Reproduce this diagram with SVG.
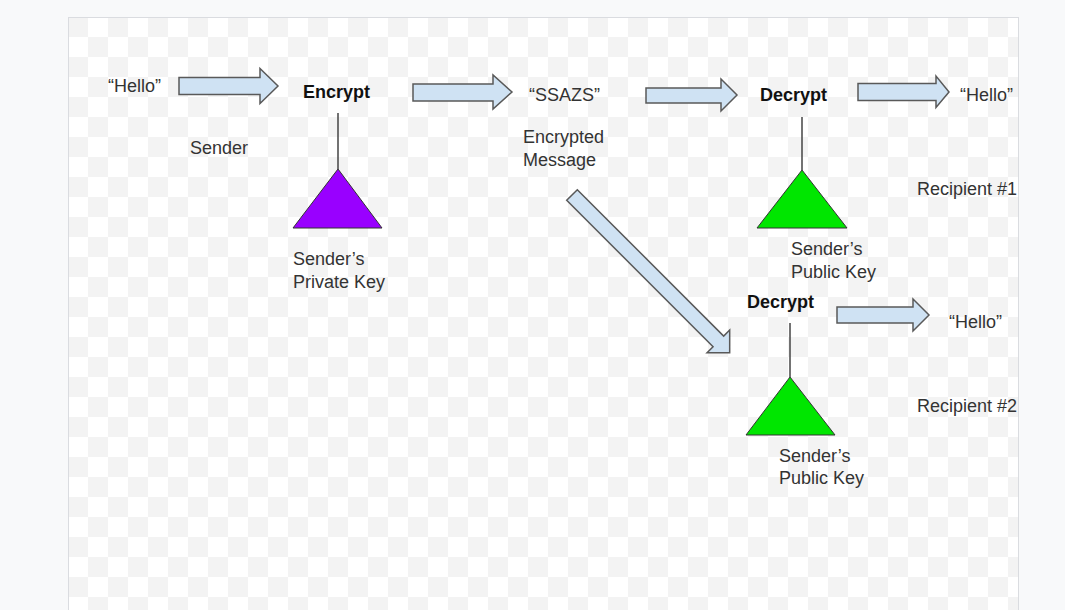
<svg xmlns="http://www.w3.org/2000/svg" width="1065" height="610" viewBox="0 0 1065 610">
<style>
text{font-family:"Liberation Sans",Arial,sans-serif;font-size:18px;fill:#333}
.b{font-weight:bold;fill:#111}
.arr{fill:#cfe2f3;stroke:#595959;stroke-width:1.5;stroke-linejoin:miter}
.stem{stroke:#444;stroke-width:1.5}
.tri{stroke:#333;stroke-width:1}
</style>
<defs>
<pattern id="chk" x="68" y="17" width="40" height="40" patternUnits="userSpaceOnUse">
<rect width="40" height="40" fill="#ffffff"/>
<rect width="20" height="20" fill="#f3f3f3"/>
<rect x="20" y="20" width="20" height="20" fill="#f3f3f3"/>
</pattern>
</defs>
<rect width="1065" height="610" fill="#f8f9fa"/>
<rect x="68.5" y="17.5" width="950" height="600" fill="url(#chk)" stroke="#dadce0"/>
<g id="connectors">
<polygon class="arr" points="179,77.5 260,77.5 260,68.5 278,86 260,103.5 260,94.5 179,94.5"/>
<polygon class="arr" points="413,84 493,84 493,75 512,92 493,109 493,101 413,101"/>
<polygon class="arr" points="646,88 721,88 721,79 737,95 721,111 721,103 646,103"/>
<polygon class="arr" points="858,83.5 936,83.5 936,76 949,92 936,107.5 936,100.5 858,100.5"/>
<polygon class="arr" points="837,307 913,307 913,299 929,315 913,331 913,323 837,323"/>
<polygon class="arr" transform="translate(572,195) rotate(45)" points="0,-7.5 207,-7.5 207,-16 223,0 207,16 207,7.5 0,7.5"/>
<line class="stem" x1="338" y1="113" x2="338" y2="169"/>
<line class="stem" x1="802" y1="117" x2="802" y2="170"/>
<line class="stem" x1="790" y1="323" x2="790" y2="377"/>
</g>
<g id="hello-in"><text x="108" y="92">“Hello”</text></g>
<g id="sender"><text x="190" y="154">Sender</text></g>
<g id="encrypt"><text class="b" x="303" y="98">Encrypt</text></g>
<g id="private-key">
<polygon class="tri" fill="#9900ff" points="338,169 293,228 382,228"/>
<text x="293" y="265">Sender’s</text>
<text x="293" y="288">Private Key</text>
</g>
<g id="ciphertext">
<text x="529" y="101">“SSAZS”</text>
<text x="523" y="143">Encrypted</text>
<text x="523" y="166">Message</text>
</g>
<g id="decrypt1"><text class="b" x="760" y="101">Decrypt</text></g>
<g id="public-key1">
<polygon class="tri" fill="#00e600" points="802,170 757,228 847,228"/>
<text x="791" y="255">Sender’s</text>
<text x="791" y="278">Public Key</text>
</g>
<g id="hello-out1"><text x="960" y="101">“Hello”</text></g>
<g id="recipient1"><text x="917" y="195">Recipient #1</text></g>
<g id="decrypt2"><text class="b" x="747" y="308">Decrypt</text></g>
<g id="public-key2">
<polygon class="tri" fill="#00e600" points="790,377 746,435 835,435"/>
<text x="779" y="462">Sender’s</text>
<text x="779" y="484">Public Key</text>
</g>
<g id="hello-out2"><text x="949" y="328">“Hello”</text></g>
<g id="recipient2"><text x="917" y="412">Recipient #2</text></g>
</svg>
